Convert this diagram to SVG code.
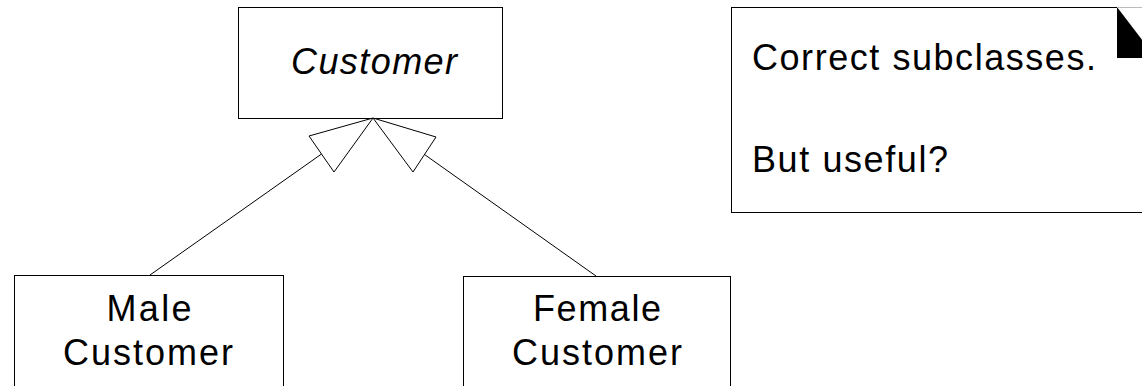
<svg xmlns="http://www.w3.org/2000/svg" width="1142" height="386" viewBox="0 0 1142 386">
<style>
.box{fill:#fff;stroke:#000;stroke-width:1}
.t{font-family:"Liberation Sans",Arial,sans-serif;font-size:36px;fill:#000}
.c{text-anchor:middle}
.edge{stroke:#000;stroke-width:1;fill:none}
.tri{fill:#fff;stroke:#000;stroke-width:1}
</style>
<rect width="1142" height="386" fill="#fff"/>
<g id="customer">
<rect class="box" x="238.5" y="7.5" width="264" height="111"/>
<text class="t c" x="374" y="74" font-style="italic" textLength="166" lengthAdjust="spacing">Customer</text>
</g>
<g id="male">
<rect class="box" x="14.5" y="275.5" width="269" height="130"/>
<text class="t c" x="149" y="321" textLength="85" lengthAdjust="spacing">Male</text>
<text class="t c" x="148" y="365" textLength="170" lengthAdjust="spacing">Customer</text>
</g>
<g id="female">
<rect class="box" x="463.5" y="276.5" width="267" height="130"/>
<text class="t c" x="597" y="321" textLength="128" lengthAdjust="spacing">Female</text>
<text class="t c" x="597" y="365" textLength="170" lengthAdjust="spacing">Customer</text>
</g>
<g id="note">
<rect class="box" x="731.5" y="7.5" width="420" height="205"/>
<polygon points="1117,7 1117,58 1156,58" fill="#000"/>
<line x1="1117" y1="7.5" x2="1142" y2="7.5" stroke="#bbb"/>
<text class="t" x="752" y="70" textLength="344" lengthAdjust="spacing">Correct subclasses.</text>
<text class="t" x="752" y="172" textLength="196" lengthAdjust="spacing">But useful?</text>
</g>
<g id="connectors">
<line class="edge" x1="321.5" y1="154" x2="150" y2="275"/>
<polygon class="tri" points="373,118 309,136 334,172"/>
<line class="edge" x1="424.5" y1="154.5" x2="596" y2="276"/>
<polygon class="tri" points="373,118 436,137 413,172"/>
</g>
</svg>
